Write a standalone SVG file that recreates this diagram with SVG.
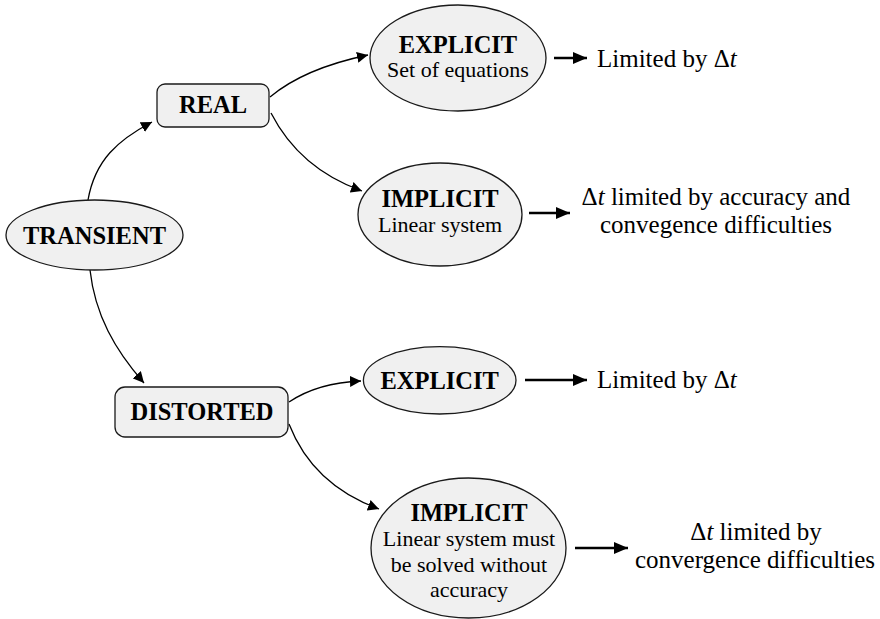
<svg xmlns="http://www.w3.org/2000/svg" width="880" height="619" viewBox="0 0 880 619">
  <style>
    .node { fill: #f0f0f0; stroke: #1a1a1a; stroke-width: 1.3; }
    .title { font-weight: bold; font-size: 24.5px; fill: #000; text-anchor: middle; }
    .sub { font-size: 22px; fill: #000; text-anchor: middle; }
    .note { font-size: 25px; fill: #000; }
    .curve { fill: none; stroke: #000; stroke-width: 1.3; marker-end: url(#head); }
    .straight { fill: none; stroke: #000; stroke-width: 2.6; marker-end: url(#bighead); }
  </style>
  <defs>
    <marker id="head" viewBox="0 0 10 10" refX="10" refY="5" markerWidth="11" markerHeight="11" markerUnits="userSpaceOnUse" orient="auto">
      <path d="M0,0 L10,5 L0,10 Z" fill="#000"/>
    </marker>
    <marker id="bighead" viewBox="0 0 12 12" refX="12" refY="6" markerWidth="14" markerHeight="12" markerUnits="userSpaceOnUse" orient="auto" preserveAspectRatio="none">
      <path d="M0,0 L12,6 L0,12 Z" fill="#000"/>
    </marker>
  </defs>

  <g id="connectors">
    <path class="curve" d="M88,200 C95,160 118,140 152,122"/>
    <path class="curve" d="M270,97 C295,76 330,63 368,55"/>
    <path class="curve" d="M271,113 C290,150 320,176 362,191"/>
    <path class="curve" d="M90,270 C95,315 115,350 144,383"/>
    <path class="curve" d="M289,402 C310,388 335,382 361,381"/>
    <path class="curve" d="M289,424 C305,465 335,493 379,509"/>
    <path class="straight" d="M554,58 L587,58"/>
    <path class="straight" d="M529,213 L570,213"/>
    <path class="straight" d="M525,380 L587,380"/>
    <path class="straight" d="M575,548 L628,548"/>
  </g>

  <g font-family="'Liberation Serif', 'Times New Roman', serif">
    <g id="transient">
      <ellipse class="node" cx="94.5" cy="235" rx="88.5" ry="35"/>
      <text class="title" x="94.5" y="244">TRANSIENT</text>
    </g>

    <g id="real">
      <rect class="node" x="157" y="84" width="112" height="43" rx="8"/>
      <text class="title" x="213" y="113">REAL</text>
    </g>

    <g id="real-explicit">
      <ellipse class="node" cx="458" cy="58" rx="88" ry="53"/>
      <text class="title" x="458" y="53">EXPLICIT</text>
      <text class="sub" x="458" y="77">Set of equations</text>
    </g>

    <g id="real-implicit">
      <ellipse class="node" cx="440" cy="214.5" rx="82" ry="51.5"/>
      <text class="title" x="440" y="207">IMPLICIT</text>
      <text class="sub" x="440" y="231.5">Linear system</text>
    </g>

    <g id="real-explicit-note">
      <text class="note" x="597" y="67">Limited by Δ<tspan font-style="italic">t</tspan></text>
    </g>

    <g id="real-implicit-note">
      <text class="note" text-anchor="middle" x="716" y="205">Δ<tspan font-style="italic">t</tspan> limited by accuracy and</text>
      <text class="note" text-anchor="middle" x="716" y="233">convegence difficulties</text>
    </g>

    <g id="distorted">
      <rect class="node" x="115" y="387" width="173" height="50" rx="10"/>
      <text class="title" x="202" y="420">DISTORTED</text>
    </g>

    <g id="distorted-explicit">
      <ellipse class="node" cx="439.7" cy="380.3" rx="76.3" ry="33.7"/>
      <text class="title" x="439.7" y="389">EXPLICIT</text>
    </g>

    <g id="distorted-explicit-note">
      <text class="note" x="597" y="388">Limited by Δ<tspan font-style="italic">t</tspan></text>
    </g>

    <g id="distorted-implicit">
      <ellipse class="node" cx="468.5" cy="548" rx="97.5" ry="70"/>
      <text class="title" x="469" y="520.5">IMPLICIT</text>
      <text class="sub" x="469" y="546">Linear system must</text>
      <text class="sub" x="469" y="571.5">be solved without</text>
      <text class="sub" x="469" y="596.5">accuracy</text>
    </g>

    <g id="distorted-implicit-note">
      <text class="note" text-anchor="middle" x="756" y="540">Δ<tspan font-style="italic">t</tspan> limited by</text>
      <text class="note" text-anchor="middle" x="755" y="568">convergence difficulties</text>
    </g>
  </g>
</svg>
